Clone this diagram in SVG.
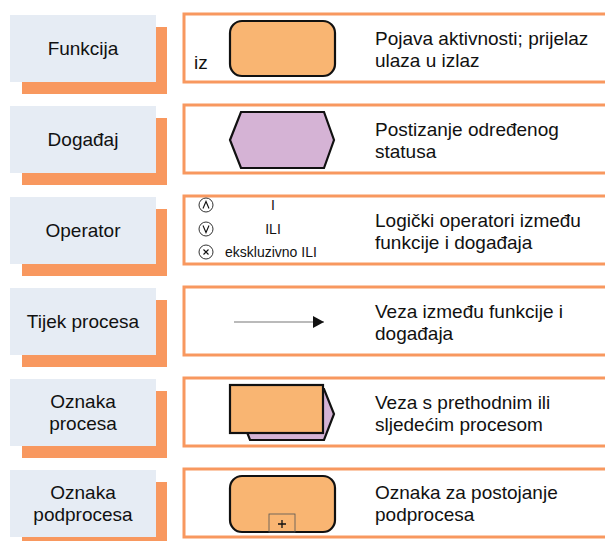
<svg xmlns="http://www.w3.org/2000/svg" width="605" height="541" viewBox="0 0 605 541">
<style>
.lbl{fill:#E6ECF4}
.sh{fill:#F8985F}
.rb{fill:#FFFFFF;stroke:#F8985F;stroke-width:3}
.t{font-family:"Liberation Sans",Arial,sans-serif;font-size:19px;fill:#111}
.tc{font-family:"Liberation Sans",Arial,sans-serif;font-size:19px;fill:#111;text-anchor:middle}
.s{font-family:"Liberation Sans",Arial,sans-serif;font-size:14px;fill:#111}
.fn{fill:#F9B572;stroke:#111;stroke-width:2.2}
.ev{fill:#D5B3D5;stroke:#111;stroke-width:2.2}
.op{fill:#fff;stroke:#333;stroke-width:1}
.sym{fill:none;stroke:#111;stroke-width:1.1}
</style>
<defs>
<marker id="ah" markerWidth="12" markerHeight="12" refX="11" refY="6" orient="auto" markerUnits="userSpaceOnUse">
<path d="M0,0 L11,6 L0,12 Z" fill="#111"/>
</marker>
</defs>

<g id="row1">
<rect class="sh" x="22" y="27" width="145" height="67"/>
<rect class="lbl" x="10" y="15" width="146" height="67"/>
<text class="tc" x="83" y="55">Funkcija</text>
<rect class="rb" x="184" y="14" width="430" height="68"/>
<text class="t" x="194" y="69">iz</text>
<rect class="fn" x="230" y="21" width="105" height="55" rx="12"/>
<text class="t" x="375" y="45">Pojava aktivnosti; prijelaz</text>
<text class="t" x="375" y="67">ulaza u izlaz</text>
</g>

<g id="row2">
<rect class="sh" x="22" y="118" width="145" height="67"/>
<rect class="lbl" x="10" y="106" width="146" height="67"/>
<text class="tc" x="83" y="146">Događaj</text>
<rect class="rb" x="184" y="105" width="430" height="68"/>
<polygon class="ev" points="230,140 241,112 324,112 334,140 324,168 241,168"/>
<text class="t" x="375" y="136">Postizanje određenog</text>
<text class="t" x="375" y="158">statusa</text>
</g>

<g id="row3">
<rect class="sh" x="22" y="209" width="145" height="67"/>
<rect class="lbl" x="10" y="197" width="146" height="67"/>
<text class="tc" x="83" y="237">Operator</text>
<rect class="rb" x="184" y="196" width="430" height="68"/>
<circle class="op" cx="206" cy="205" r="7"/>
<path class="sym" d="M203,208.5 L206,201.5 L209,208.5"/>
<text class="s" x="273" y="210" text-anchor="middle">I</text>
<circle class="op" cx="206" cy="229" r="7"/>
<path class="sym" d="M203,225.5 L206,232.5 L209,225.5"/>
<text class="s" x="273" y="234" text-anchor="middle">ILI</text>
<circle class="op" cx="206" cy="252" r="7"/>
<path class="sym" d="M203.5,249.5 L208.5,254.5 M208.5,249.5 L203.5,254.5"/>
<text class="s" x="225" y="257">ekskluzivno ILI</text>
<text class="t" x="375" y="227">Logički operatori između</text>
<text class="t" x="375" y="249">funkcije i događaja</text>
</g>

<g id="row4">
<rect class="sh" x="22" y="300" width="145" height="67"/>
<rect class="lbl" x="10" y="288" width="146" height="67"/>
<text class="tc" x="83" y="328">Tijek procesa</text>
<rect class="rb" x="184" y="287" width="430" height="68"/>
<text class="t" x="375" y="318">Veza između funkcije i</text>
<text class="t" x="375" y="340">događaja</text>
</g>

<g id="row5">
<rect class="sh" x="22" y="391" width="145" height="67"/>
<rect class="lbl" x="10" y="379" width="146" height="67"/>
<text class="tc" x="83" y="408">Oznaka</text>
<text class="tc" x="83" y="430">procesa</text>
<rect class="rb" x="184" y="378" width="430" height="68"/>
<polygon class="ev" points="240,414 250,389 324,389 334,414 324,440 250,440"/>
<rect class="fn" x="230" y="385" width="93" height="48"/>
<text class="t" x="375" y="409">Veza s prethodnim ili</text>
<text class="t" x="375" y="431">sljedećim procesom</text>
</g>

<g id="row6">
<rect class="sh" x="22" y="482" width="145" height="67"/>
<rect class="lbl" x="10" y="470" width="146" height="67"/>
<text class="tc" x="83" y="499">Oznaka</text>
<text class="tc" x="83" y="521">podprocesa</text>
<rect class="rb" x="184" y="469" width="430" height="68"/>
<rect class="fn" x="230" y="476" width="105" height="56" rx="12"/>
<rect x="269" y="514" width="26" height="18" fill="none" stroke="#555" stroke-width="0.8"/>
<path d="M278,524 L286,524 M282,520 L282,528" stroke="#111" stroke-width="1.3"/>
<text class="t" x="375" y="499">Oznaka za postojanje</text>
<text class="t" x="375" y="521">podprocesa</text>
</g>

<g id="connectors">
<line x1="234" y1="322" x2="324" y2="322" stroke="#777" stroke-width="1.2" marker-end="url(#ah)"/>
</g>
</svg>
